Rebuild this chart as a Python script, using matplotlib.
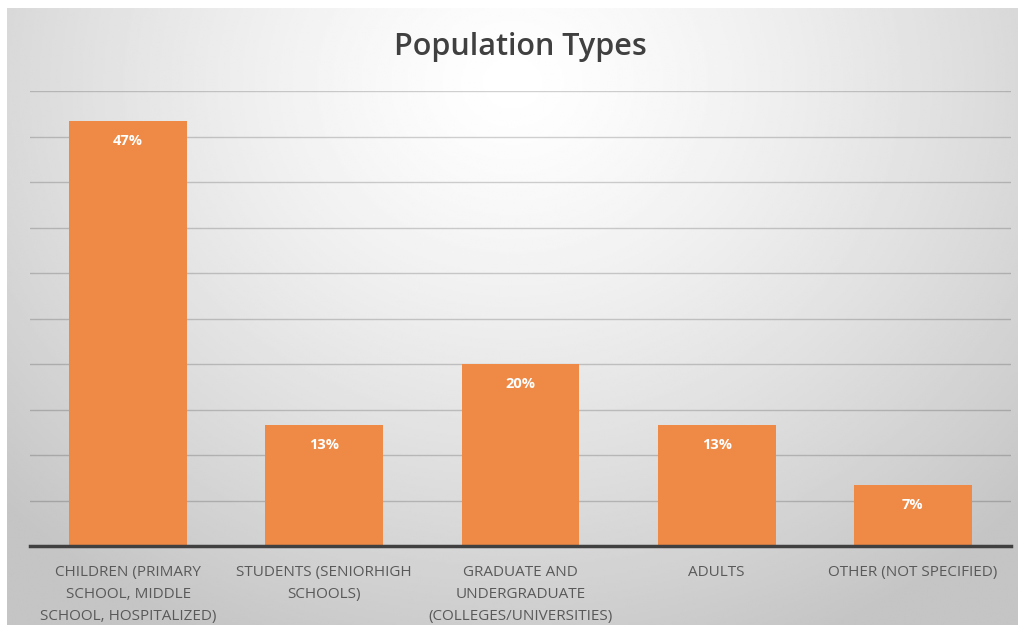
import numpy as np
import matplotlib
matplotlib.use('Agg')
import matplotlib.pyplot as plt

# ── Data ──────────────────────────────────────────────────────────────
categories = [
    'CHILDREN (PRIMARY\nSCHOOL, MIDDLE\nSCHOOL, HOSPITALIZED)',
    'STUDENTS (SENIORHIGH\nSCHOOLS)',
    'GRADUATE AND\nUNDERGRADUATE\n(COLLEGES/UNIVERSITIES)',
    'ADULTS',
    'OTHER (NOT SPECIFIED)',
]
shares = [46.67, 13.33, 20.0, 13.33, 6.67]
share_labels = ['47%', '13%', '20%', '13%', '7%']

BAR_C = '#EE8A46'
TXT_C = '#595959'
FONT = 'Open Sans'

W, H = 1021, 630
fig = plt.figure(figsize=(W / 100, H / 100), dpi=100)
fig.patch.set_facecolor('white')

# ── Radial grey gradient behind the chart ─────────────────────────────
bg = fig.add_axes([7 / W, 1 - 625 / H, (1017 - 7) / W, (625 - 8) / H])
yy, xx = np.mgrid[0:1:300j, 0:1:500j]
r = np.sqrt(((xx - 0.5) / 0.7) ** 2 + ((yy - 0.12) / 1.0) ** 2)
shade = 1.0 - 0.23 * np.clip(r, 0, 1.0) ** 1.3
bg.imshow(shade, cmap='gray', vmin=0, vmax=1, aspect='auto',
          extent=[0, 1, 1, 0], interpolation='bilinear')
bg.axis('off')

# ── Bars ──────────────────────────────────────────────────────────────
ax = fig.add_axes([30 / W, 84 / H, (1011 - 30) / W, (546 - 91) / H])
ax.set_facecolor('none')
x = np.arange(len(categories))
bars = ax.bar(x, shares, width=0.6, color=BAR_C, zorder=3)
ax.set_xlim(-0.5, len(categories) - 0.5)
ax.set_ylim(0, 50)
ax.set_yticks(np.arange(5, 51, 5))
ax.yaxis.grid(True, color='black', alpha=0.18, lw=1.0, zorder=1)
ax.tick_params(axis='y', left=False, labelleft=False)
ax.tick_params(axis='x', bottom=False, pad=10)
for s in ['top', 'right', 'left']:
    ax.spines[s].set_visible(False)
ax.spines['bottom'].set_color('#404040')
ax.spines['bottom'].set_linewidth(2.5)
ax.spines['bottom'].set_zorder(4)

ax.set_xticks(x)
ax.set_xticklabels(categories, fontsize=11, color=TXT_C, family=FONT,
                   linespacing=1.65, va='top')

for b, lab in zip(bars, share_labels):
    ax.text(b.get_x() + b.get_width() / 2, b.get_height() - 2.2, lab,
            ha='center', va='center', color='white', fontsize=10.5,
            fontweight='bold', family=FONT, zorder=5)

fig.text(520 / W, 1 - 47 / H, 'Population Types', ha='center', va='center',
         fontsize=22, fontweight='semibold', color='#404040', family=FONT)

fig.savefig('out.png', dpi=100)
